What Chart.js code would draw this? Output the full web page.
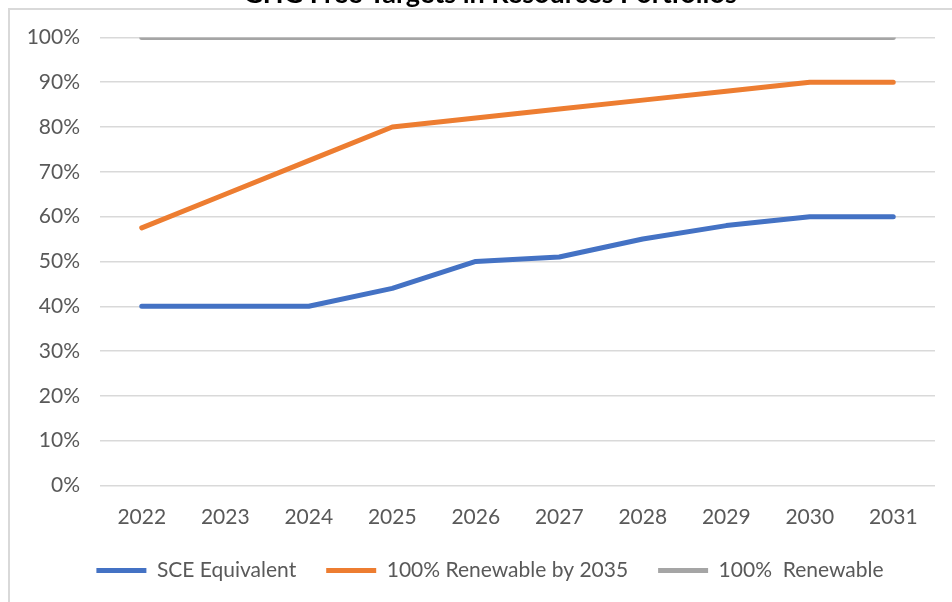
<!DOCTYPE html>
<html>
<head>
<meta charset="utf-8">
<script src="https://cdn.jsdelivr.net/npm/chart.js@4.4.1/dist/chart.umd.min.js"></script>
<style>
  html, body { margin: 0; padding: 0; background: #ffffff; overflow: hidden; }
  body { width: 952px; height: 602px; position: relative; }
  #frame { position: absolute; left: 8px; top: 8px; width: 944px; height: 594px;
           border-left: 2px solid #d9d9d9; border-top: 2px solid #d9d9d9; box-sizing: border-box; }
  #wrap { position: absolute; left: 0; top: -30px; width: 952px; height: 650px; }
</style>
</head>
<body>
<div id="frame"></div>
<div id="wrap"><canvas id="c" width="952" height="650"></canvas></div>
<script>
const TITLE = 'GHG Free Targets in Resources Portfolios';
const years = ['2022','2023','2024','2025','2026','2027','2028','2029','2030','2031'];
const sceEquivalent = [40, 40, 40, 44, 50, 51, 55, 58, 60, 60];
const renewableBy2035 = [57.5, 65, 72.5, 80, 82, 84, 86, 88, 90, 90];
const renewable100 = [100, 100, 100, 100, 100, 100, 100, 100, 100, 100];
const seriesNames = ['SCE Equivalent', '100% Renewable by 2035', '100%  Renewable'];
const FONT = 'Lato, "Open Sans", sans-serif';

function ds(label, data, color) {
  return {
    label, data,
    borderColor: color, backgroundColor: color,
    borderWidth: 5, pointRadius: 0, pointHoverRadius: 0,
    tension: 0, borderCapStyle: 'round', borderJoinStyle: 'round', fill: false
  };
}

const noLabelClip = {
  id: 'noLabelClip',
  afterLayout(chart) {
    const y = chart.scales.y;
    if (y) y._computeLabelArea = () => undefined;
  }
};

new Chart(document.getElementById('c'), {
  type: 'line',
  data: {
    labels: years,
    datasets: [
      ds(seriesNames[0], sceEquivalent, '#4472c4'),
      ds(seriesNames[1], renewableBy2035, '#ed7d31'),
      ds(seriesNames[2], renewable100, '#a5a5a5')
    ]
  },
  plugins: [noLabelClip],
  options: {
    responsive: false,
    animation: false,
    devicePixelRatio: 1,
    layout: { padding: { left: 45, right: 17, top: 0, bottom: 29 } },
    plugins: {
      title: {
        display: true, text: TITLE, color: '#000000',
        font: { family: FONT, size: 27, weight: 'bold' },
        padding: { top: 8, bottom: 27 }
      },
      legend: {
        position: 'bottom',
        labels: {
          usePointStyle: true, pointStyle: 'line', pointStyleWidth: 50,
          color: '#595959', font: { family: FONT, size: 21 }, padding: 30
        }
      },
      tooltip: { enabled: false }
    },
    scales: {
      x: {
        offset: true,
        grid: { display: false, drawTicks: false },
        border: { display: false },
        ticks: { color: '#595959', font: { family: FONT, size: 21 }, padding: 19, maxRotation: 0 },
        afterFit: (s) => { s.height = 44.5; }
      },
      y: {
        min: 0, max: 100,
        grid: { color: '#d9d9d9', lineWidth: 1.5, drawTicks: false },
        border: { display: false },
        ticks: { stepSize: 10, color: '#595959', font: { family: FONT, size: 21 }, padding: 20,
                 callback: (v) => v + '%' },
        afterFit: (s) => { s.width = 55; }
      }
    }
  }
});
</script>
</body>
</html>
